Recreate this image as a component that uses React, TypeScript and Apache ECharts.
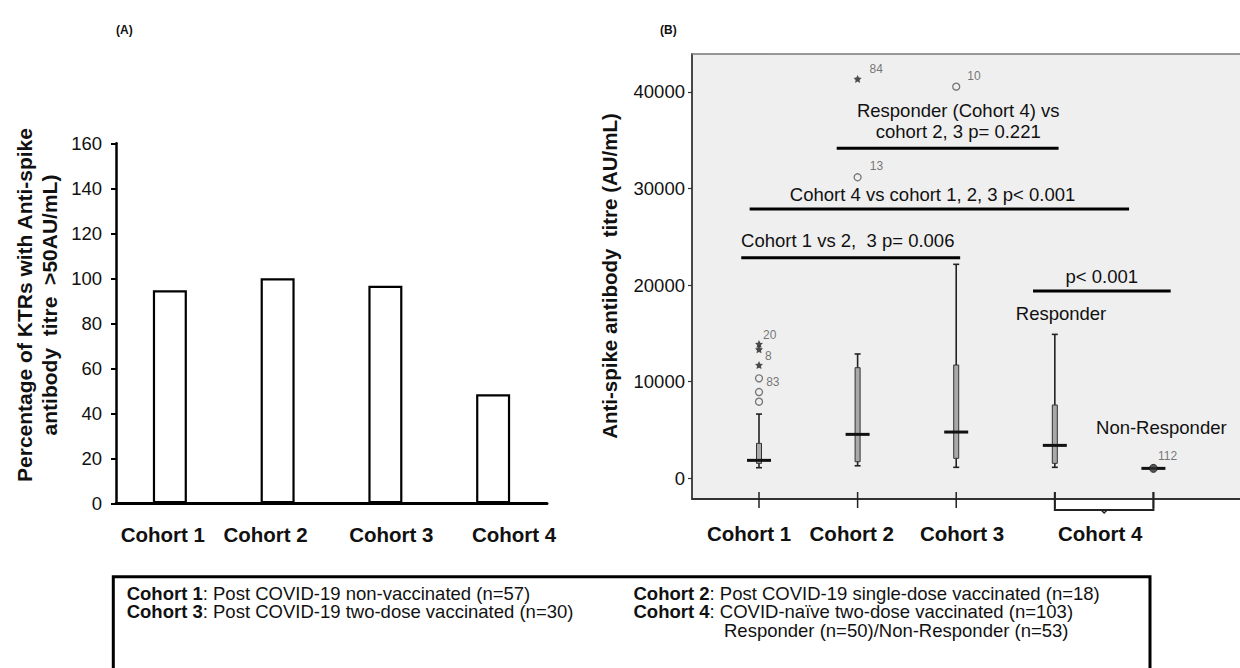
import React, { useEffect, useRef } from 'react';
import * as echarts from 'echarts';

// ---------- Panel A data ----------
const cohortsA = ['Cohort 1', 'Cohort 2', 'Cohort 3', 'Cohort 4'];
const percentA = [94.7, 100, 96.7, 48.5];
const labelShiftA = [-7, -12, 6, 21];

// ---------- Panel B data ----------
// [position, min, Q1, median, Q3, max]
const boxStats = [
  [0, 1100, 1550, 1860, 3620, 6650],
  [1, 1300, 1720, 4550, 11450, 12870],
  [2, 1140, 2070, 4790, 11730, 22150],
  [3, 1140, 1550, 3410, 7590, 14900],
  [4, 1030, 1030, 1030, 1030, 1030],
];
const outlierCircles: [number, number, string][] = [
  [0, 7930, ''], [0, 8930, ''], [0, 10350, '83'], [1, 31160, '13'], [2, 40540, '10'],
];
const outlierStars: [number, number, string][] = [
  [0, 11730, ''], [0, 13350, '8'], [0, 13900, '20'], [1, 41340, '84'],
];
const nonResponderPoint: [number, number, string][] = [[4, 1030, '112']];
const yTicksB = [0, 10000, 20000, 30000, 40000];
const xTickPosB = [0, 1, 2, 3, 4];
const xLabelsB = ['Cohort 1', 'Cohort 2', 'Cohort 3', 'Cohort 4'];
const xLabelPosB = [-0.1, 0.94, 2.06, 3.46];
const bracketB = [[3, 4]];
const sigLines = [
  [0.788, 3.038, 34160],
  [-0.095, 3.753, 27880],
  [-0.18, 2.04, 22840],
  [2.779, 4.175, 19390],
];
const sigTexts = [
  'Responder (Cohort 4) vs\ncohort 2, 3 p= 0.221',
  'Cohort 4 vs cohort 1, 2, 3 p< 0.001',
  'Cohort 1 vs 2,  3 p= 0.006',
  'p< 0.001',
  'Responder',
  'Non-Responder',
];
const sigTextPos = [
  [2.02, 36990],
  [1.76, 29330],
  [0.9, 24600],
  [3.476, 20870],
  [3.063, 17080],
  [4.08, 5210],
];
const legendCol1 = [
  ['Cohort 1', ': Post COVID-19 non-vaccinated (n=57)'],
  ['Cohort 3', ': Post COVID-19 two-dose vaccinated (n=30)'],
];
const legendCol2 = [
  ['Cohort 2', ': Post COVID-19 single-dose vaccinated (n=18)'],
  ['Cohort 4', ': COVID-naïve two-dose vaccinated (n=103)'],
  ['', 'Responder (n=50)/Non-Responder (n=53)'],
];

const FONT = '"Liberation Sans", Arial, sans-serif';
const STAR = 'path://M0,-10 L2.9,-4 L9.5,-3.1 L4.7,1.5 L5.9,8.1 L0,5 L-5.9,8.1 L-4.7,1.5 L-9.5,-3.1 L-2.9,-4 Z';
const labelNudge: Record<string, [number, number]> = {
  '20': [-5, -9], '8': [-3, 7], '83': [-2, 4], '13': [3, -11], '84': [3, -10], '10': [2, -11], '112': [-5, -12],
};

const B_MIN_X = -0.6795;
const B_MAX_X = 4.878;
const B_MIN_Y = -2140;
const B_MAX_Y = 43920;
const LEG = 18.5;
const LEG_LH = 18.6;

function pointData(arr: [number, number, string][]) {
  return arr.map(([x, y, l]) => ({
    value: [x, y],
    label: l
      ? { show: true, formatter: l, position: 'right', offset: labelNudge[l], fontSize: 12, color: '#555555', textBorderWidth: 0, fontFamily: FONT }
      : { show: false },
  }));
}

function legendText(rows: string[][]) {
  return rows.map(([b, r]) => (b ? `{b|${b}}{r|${r}}` : `{i| }{r|${r}}`)).join('\n');
}

const legRich = {
  b: { fontWeight: 'bold', fontSize: LEG, fontFamily: FONT, fill: '#111', lineHeight: LEG_LH },
  r: { fontSize: LEG, fontFamily: FONT, fill: '#111', lineHeight: LEG_LH },
  i: { width: 90.5, fontSize: LEG, lineHeight: LEG_LH },
};

export default function App() {
  const ref = useRef<HTMLDivElement>(null);
  useEffect(() => {
    document.body.style.margin = '0';
    if (!ref.current) return;
    const chart = echarts.init(ref.current, undefined, { renderer: 'svg' });
    const option: any = {
      animation: false,
      backgroundColor: '#ffffff',
      textStyle: { fontFamily: FONT },
      grid: [
        { left: 116, top: 143.3, width: 431, height: 360 },
        { left: 692, top: 54, right: 0, bottom: 169, show: true, backgroundColor: '#efefef', borderWidth: 0 },
      ],
      xAxis: [
        {
          gridIndex: 0, type: 'category', data: cohortsA,
          axisLine: { show: true, lineStyle: { color: '#000', width: 3 } },
          axisTick: { show: false },
          axisLabel: {
            margin: 21, color: '#111',
            formatter: (v: string) => `{c${cohortsA.indexOf(v)}|${v}}`,
            rich: Object.fromEntries(labelShiftA.map((s, i) => [
              `c${i}`,
              { fontSize: 20.5, fontWeight: 'bold', fontFamily: FONT, color: '#111',
                padding: s < 0 ? [0, -2 * s, 0, 0] : [0, 0, 0, 2 * s] },
            ])),
          },
        },
        {
          gridIndex: 1, type: 'value', min: B_MIN_X, max: B_MAX_X,
          axisLine: { show: true, onZero: false, lineStyle: { color: '#333', width: 1.8 } },
          axisTick: { show: false },
          splitLine: { show: false },
          axisLabel: {
            customValues: xLabelPosB,
            margin: 24, fontSize: 20.5, fontWeight: 'bold', color: '#111', fontFamily: FONT,
            formatter: (v: number) => {
              const i = xLabelPosB.findIndex((p) => Math.abs(p - v) < 1e-6);
              return i >= 0 ? xLabelsB[i] : '';
            },
          },
        },
        {
          gridIndex: 1, type: 'value', position: 'top', min: B_MIN_X, max: B_MAX_X,
          axisLine: { show: true, onZero: false, lineStyle: { color: '#777', width: 1.5 } },
          axisTick: { show: false }, axisLabel: { show: false }, splitLine: { show: false },
        },
      ],
      yAxis: [
        {
          gridIndex: 0, type: 'value', min: 0, max: 160, interval: 20,
          axisLine: { show: true, lineStyle: { color: '#000', width: 2.5 } },
          axisTick: { show: true, length: 5, lineStyle: { color: '#000', width: 2 } },
          axisLabel: { fontSize: 18.5, color: '#111', margin: 14, fontFamily: FONT },
          splitLine: { show: false },
        },
        {
          gridIndex: 1, type: 'value', min: B_MIN_Y, max: B_MAX_Y,
          axisLine: { show: true, onZero: false, lineStyle: { color: '#333', width: 1.8 } },
          axisTick: { show: true, customValues: yTicksB, length: 4, lineStyle: { color: '#333', width: 1.2 } },
          axisLabel: { customValues: yTicksB, fontSize: 18.5, color: '#111', margin: 7, fontFamily: FONT, formatter: (v: number) => String(v) },
          splitLine: { show: false },
        },
      ],
      series: [
        {
          type: 'bar', xAxisIndex: 0, yAxisIndex: 0, data: percentA, barWidth: 34,
          itemStyle: { color: '#ffffff', borderColor: '#000', borderWidth: 2.2 },
        },
        {
          type: 'custom', xAxisIndex: 1, yAxisIndex: 1, clip: false,
          data: boxStats,
          encode: { x: 0, y: [1, 2, 3, 4, 5] },
          renderItem: (params: any, api: any) => {
            const x = api.value(0);
            const lo = api.coord([x, api.value(1)]);
            const q1 = api.coord([x, api.value(2)]);
            const md = api.coord([x, api.value(3)]);
            const q3 = api.coord([x, api.value(4)]);
            const hi = api.coord([x, api.value(5)]);
            const cx = lo[0];
            const st = { stroke: '#222', lineWidth: 1.6 };
            return {
              type: 'group',
              children: [
                { type: 'line', shape: { x1: cx, y1: hi[1], x2: cx, y2: lo[1] }, style: st },
                { type: 'line', shape: { x1: cx - 3, y1: hi[1], x2: cx + 3, y2: hi[1] }, style: st },
                { type: 'line', shape: { x1: cx - 3, y1: lo[1], x2: cx + 3, y2: lo[1] }, style: st },
                { type: 'rect', shape: { x: cx - 2.5, y: q3[1], width: 5, height: Math.max(0, q1[1] - q3[1]) }, style: { fill: '#a9a9a9', stroke: '#333', lineWidth: 1 } },
                { type: 'line', shape: { x1: cx - 12, y1: md[1], x2: cx + 12, y2: md[1] }, style: { stroke: '#111', lineWidth: 3 } },
              ],
            };
          },
          z: 3,
        },
        {
          type: 'custom', xAxisIndex: 1, yAxisIndex: 1, clip: false,
          data: xTickPosB.map((x) => [x, B_MIN_Y]),
          renderItem: (params: any, api: any) => {
            const p = api.coord([api.value(0), api.value(1)]);
            return { type: 'line', shape: { x1: p[0], y1: p[1] - 7, x2: p[0], y2: p[1] + 9 }, style: { stroke: '#222', lineWidth: 1.5 } };
          },
          z: 4,
        },
        {
          type: 'custom', xAxisIndex: 1, yAxisIndex: 1, clip: false,
          data: bracketB.map(([a, b]) => [a, b, B_MIN_Y]),
          renderItem: (params: any, api: any) => {
            const a = api.coord([api.value(0), api.value(2)]);
            const b = api.coord([api.value(1), api.value(2)]);
            const y = a[1];
            const mid = (a[0] + b[0]) / 2;
            const st = { stroke: '#222', lineWidth: 2, fill: 'none' };
            return {
              type: 'group',
              children: [
                { type: 'polyline', shape: { points: [[a[0], y - 7], [a[0], y + 11], [b[0], y + 11], [b[0], y - 7]] }, style: st },
                { type: 'polyline', shape: { points: [[mid - 3, y + 11], [mid, y + 14], [mid + 3, y + 11]] }, style: { stroke: '#222', lineWidth: 1.5, fill: 'none' } },
              ],
            };
          },
          z: 4,
        },
        {
          type: 'custom', xAxisIndex: 1, yAxisIndex: 1, clip: false,
          data: sigLines,
          renderItem: (params: any, api: any) => {
            const a = api.coord([api.value(0), api.value(2)]);
            const b = api.coord([api.value(1), api.value(2)]);
            return { type: 'line', shape: { x1: a[0], y1: a[1], x2: b[0], y2: b[1] }, style: { stroke: '#000', lineWidth: 3 } };
          },
          z: 5,
        },
        {
          type: 'custom', xAxisIndex: 1, yAxisIndex: 1, clip: false,
          data: sigTextPos,
          renderItem: (params: any, api: any) => {
            const p = api.coord([api.value(0), api.value(1)]);
            return {
              type: 'text', x: p[0], y: p[1],
              style: {
                text: sigTexts[params.dataIndex], fill: '#111', fontSize: 18.5, fontFamily: FONT,
                align: 'center', verticalAlign: 'middle', lineHeight: 21.7,
              },
            };
          },
          z: 5,
        },
        {
          type: 'scatter', xAxisIndex: 1, yAxisIndex: 1, symbol: 'circle', symbolSize: 7,
          itemStyle: { color: 'rgba(0,0,0,0)', borderColor: '#555', borderWidth: 1.3 },
          data: pointData(outlierCircles), z: 6,
        },
        {
          type: 'scatter', xAxisIndex: 1, yAxisIndex: 1, symbol: STAR, symbolSize: 8,
          itemStyle: { color: '#222' },
          data: pointData(outlierStars), z: 6,
        },
        {
          type: 'scatter', xAxisIndex: 1, yAxisIndex: 1, symbol: 'circle', symbolSize: 8,
          itemStyle: { color: '#333', borderColor: '#111', borderWidth: 1 },
          data: pointData(nonResponderPoint), z: 6,
        },
      ],
      graphic: [
        { type: 'text', x: 116, y: 30, style: { text: '(A)', font: `bold 12px ${FONT}`, fill: '#111', align: 'left', verticalAlign: 'middle' } },
        { type: 'text', x: 660, y: 30, style: { text: '(B)', font: `bold 12px ${FONT}`, fill: '#111', align: 'left', verticalAlign: 'middle' } },
        {
          type: 'text', x: 37, y: 305, rotation: Math.PI / 2,
          style: {
            text: 'Percentage of KTRs with Anti-spike\nantibody  titre  >50AU/mL)',
            font: `bold 21px ${FONT}`, fill: '#111', align: 'center', verticalAlign: 'middle', lineHeight: 25,
          },
        },
        {
          type: 'text', x: 609, y: 276, rotation: Math.PI / 2,
          style: {
            text: 'Anti-spike antibody  titre (AU/mL)',
            font: `bold 20.5px ${FONT}`, fill: '#111', align: 'center', verticalAlign: 'middle',
          },
        },
        {
          type: 'rect', shape: { x: 113.3, y: 576.7, width: 1036.7, height: 130 },
          style: { fill: 'none', stroke: '#000', lineWidth: 3 },
        },
        {
          type: 'text', x: 126.7, y: 583.7,
          style: { text: legendText(legendCol1), fontSize: LEG, fontFamily: FONT, fill: '#111', align: 'left', verticalAlign: 'top', lineHeight: LEG_LH, rich: legRich },
        },
        {
          type: 'text', x: 633.5, y: 583.7,
          style: { text: legendText(legendCol2), fontSize: LEG, fontFamily: FONT, fill: '#111', align: 'left', verticalAlign: 'top', lineHeight: LEG_LH, rich: legRich },
        },
      ],
    };
    chart.setOption(option);
    return () => chart.dispose();
  }, []);
  return <div ref={ref} style={{ width: 1240, height: 668 }} />;
}
